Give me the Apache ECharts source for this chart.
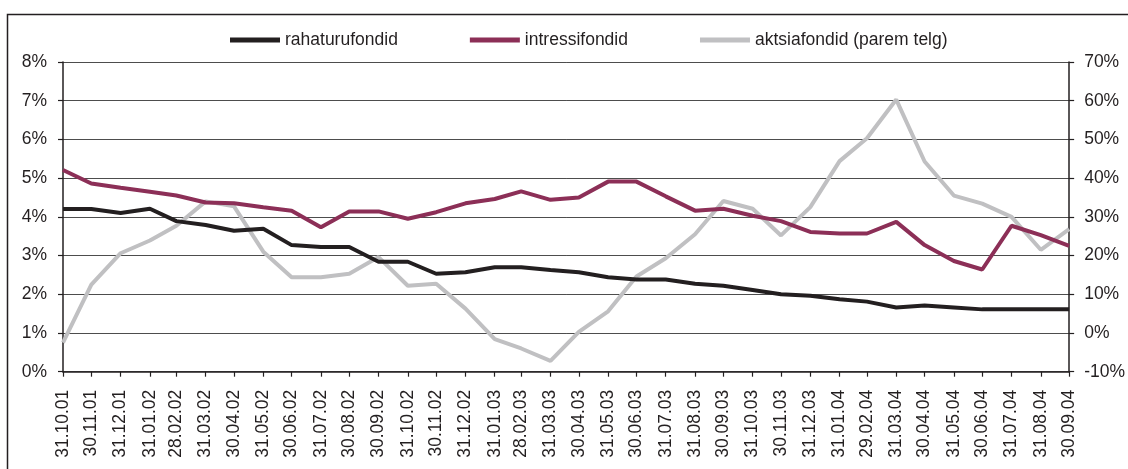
<!DOCTYPE html>
<html>
<head>
    <meta charset="utf-8">
    <title>Fondide tootlus</title>
    <script src="https://cdn.jsdelivr.net/npm/echarts@6/dist/echarts.min.js"></script>
    <style>
        body { margin: 0; background: #fff; }
    </style>
</head>
<body>
    <div id="main" style="width:1128px;height:469px;"></div>
    <script type="text/javascript">
        // kuupäevad (kuu lõpud)
        var dates = ['31.10.01', '30.11.01', '31.12.01', '31.01.02', '28.02.02', '31.03.02',
            '30.04.02', '31.05.02', '30.06.02', '31.07.02', '30.08.02', '30.09.02',
            '31.10.02', '30.11.02', '31.12.02', '31.01.03', '28.02.03', '31.03.03',
            '30.04.03', '31.05.03', '30.06.03', '31.07.03', '31.08.03', '30.09.03',
            '31.10.03', '30.11.03', '31.12.03', '31.01.04', '29.02.04', '31.03.04',
            '30.04.04', '31.05.04', '30.06.04', '31.07.04', '31.08.04', '30.09.04'];

        // vasak telg, %
        var rahaturu = [4.20, 4.20, 4.10, 4.21, 3.89, 3.79, 3.64, 3.69, 3.27, 3.22, 3.22, 2.84,
            2.84, 2.53, 2.57, 2.70, 2.70, 2.63, 2.57, 2.44, 2.38, 2.38, 2.27, 2.22,
            2.11, 2.00, 1.96, 1.87, 1.81, 1.66, 1.71, 1.66, 1.61, 1.61, 1.61, 1.61];
        var intressi = [5.21, 4.86, 4.75, 4.65, 4.55, 4.37, 4.35, 4.25, 4.16, 3.73, 4.14, 4.14,
            3.95, 4.12, 4.35, 4.46, 4.66, 4.44, 4.50, 4.91, 4.91, 4.53, 4.16, 4.21,
            4.03, 3.89, 3.61, 3.57, 3.57, 3.87, 3.27, 2.86, 2.64, 3.77, 3.53, 3.25];
        // parem telg, %
        var aktsia = [-2.5, 12.5, 20.6, 23.9, 27.7, 34.0, 32.7, 21.0, 14.4, 14.4, 15.3, 19.6,
            12.2, 12.7, 6.3, -1.6, -4.0, -7.2, 0.3, 5.6, 14.6, 19.3, 25.5, 34.1,
            32.1, 25.2, 32.5, 44.4, 50.3, 60.3, 44.3, 35.5, 33.4, 30.0, 21.5, 26.8];

        var names = ['rahaturufondid', 'intressifondid', 'aktsiafondid (parem telg)'];

        // päevade arv esimesest kuupäevast
        function toDay(s) {
            var p = s.split('.');
            return Date.UTC(2000 + Number(p[2]), Number(p[1]) - 1, Number(p[0])) / 86400000;
        }
        var day0 = toDay(dates[0]);
        var days = dates.map(function (s) { return toDay(s) - day0; });
        var labelOf = {};
        days.forEach(function (d, i) { labelOf[d] = dates[i]; });

        function pairs(vals) {
            return vals.map(function (v, i) { return [days[i], v]; });
        }

        var font = 'Liberation Sans, Arial, sans-serif';
        var ink = '#231f20';

        var chart = echarts.init(document.getElementById('main'));
        var option = {
            backgroundColor: '#fff',
            animation: false,
            textStyle: { fontFamily: font },
            graphic: [{
                type: 'rect',
                shape: { x: 7.5, y: 14.5, width: 1200, height: 600 },
                style: { fill: null, stroke: ink, lineWidth: 1.5 },
                silent: true
            }],
            legend: {
                left: 225,
                top: 26,
                itemWidth: 50,
                itemHeight: 5,
                itemGap: 72,
                icon: 'rect',
                data: names,
                textStyle: { fontSize: 17.5, color: ink, fontFamily: font }
            },
            grid: { left: 63, right: 58.5, top: 62, bottom: 97.3 },
            xAxis: {
                type: 'value',
                min: 0,
                max: days[days.length - 1],
                axisLine: { onZero: false, lineStyle: { color: ink, width: 1.5 } },
                axisTick: { show: true, length: 5, customValues: days, lineStyle: { color: ink, width: 1.2 } },
                splitLine: { show: false },
                axisLabel: {
                    customValues: days,
                    rotate: 90,
                    margin: 18,
                    fontSize: 17.5,
                    color: ink,
                    fontFamily: font,
                    formatter: function (v) { return labelOf[v] || ''; }
                }
            },
            yAxis: [{
                type: 'value',
                min: 0, max: 8, interval: 1,
                position: 'left',
                axisLine: { show: true, lineStyle: { color: ink, width: 1.5 } },
                axisTick: { show: true, length: 5, lineStyle: { color: ink, width: 1.2 } },
                splitLine: { show: true, lineStyle: { color: '#4d4d4d', width: 1 } },
                axisLabel: { formatter: '{value}%', margin: 16, fontSize: 17.5, color: ink, fontFamily: font }
            }, {
                type: 'value',
                min: -10, max: 70, interval: 10,
                position: 'right',
                axisLine: { show: true, lineStyle: { color: ink, width: 1.5 } },
                axisTick: { show: true, length: 5, lineStyle: { color: ink, width: 1.2 } },
                splitLine: { show: false },
                axisLabel: { formatter: '{value}%', margin: 15, fontSize: 17.5, color: ink, fontFamily: font }
            }],
            series: [{
                name: names[0], type: 'line', yAxisIndex: 0,
                data: pairs(rahaturu), symbol: 'none', z: 3,
                itemStyle: { color: '#231f20' },
                lineStyle: { color: '#231f20', width: 4 }
            }, {
                name: names[1], type: 'line', yAxisIndex: 0,
                data: pairs(intressi), symbol: 'none', z: 3,
                itemStyle: { color: '#8c2f57' },
                lineStyle: { color: '#8c2f57', width: 4 }
            }, {
                name: names[2], type: 'line', yAxisIndex: 1,
                data: pairs(aktsia), symbol: 'none', z: 2,
                itemStyle: { color: '#c0c0c2' },
                lineStyle: { color: '#c0c0c2', width: 4 }
            }]
        };
        chart.setOption(option);
    </script>
</body>
</html>
